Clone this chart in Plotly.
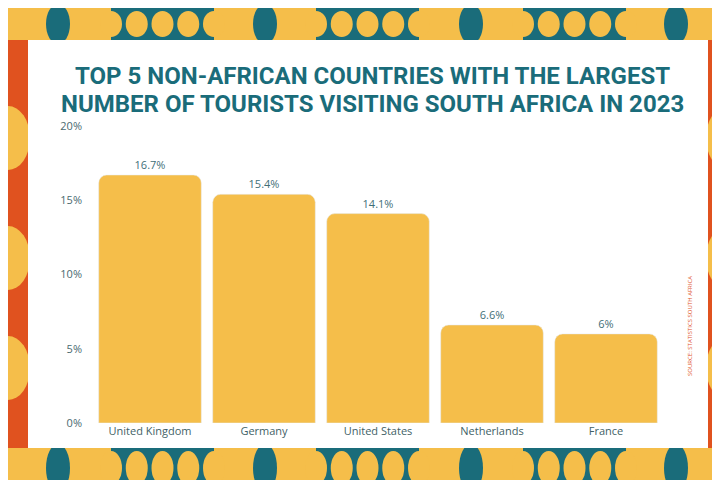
import plotly.graph_objects as go

countries = ["United Kingdom", "Germany", "United States", "Netherlands", "France"]
shares = [16.7, 15.4, 14.1, 6.6, 6]
labels = ["16.7%", "15.4%", "14.1%", "6.6%", "6%"]
tick_vals = [0, 5, 10, 15, 20]
tick_text = ["0%", "5%", "10%", "15%", "20%"]

YELLOW = "#F5BE4A"
TEAL = "#1A6C7A"
ORANGE = "#E0521F"

# plot area in pixels: x 85..655, y 118..415
L, R, T, B = 85, 65, 118, 65
PW, PH = 720 - L - R, 480 - T - B


def px(x):
    return (x - L) / PW


def py(y):
    return (480 - B - y) / PH


fig = go.Figure(go.Bar(
    x=countries, y=shares, text=labels, textposition="outside",
    textfont=dict(color="#3F6F77", size=11),
    marker=dict(color=YELLOW, cornerradius=8), width=0.9,
    cliponaxis=False,
))

shapes = []


def rect(x0, y0, x1, y1, color):
    shapes.append(dict(type="rect", xref="paper", yref="paper", x0=px(x0), x1=px(x1),
                       y0=py(y1), y1=py(y0), fillcolor=color, line_width=0, layer="below"))


def oval(x0, y0, x1, y1, color):
    shapes.append(dict(type="circle", xref="paper", yref="paper", x0=px(x0), x1=px(x1),
                       y0=py(y1), y1=py(y0), fillcolor=color, line_width=0, layer="below"))


# decorative border
rect(0, 0, 720, 32, YELLOW)
rect(0, 440, 720, 480, YELLOW)
rect(0, 32, 20, 440, ORANGE)
rect(700, 32, 720, 440, ORANGE)
for cy in [130, 250, 360]:
    oval(-22, cy - 32, 22, cy + 32, YELLOW)
    oval(698, cy - 32, 742, cy + 32, YELLOW)
for y0, y1 in [(0, 32), (440, 480)]:
    for tx in [103, 308, 515]:
        rect(tx, y0, tx + 103, y1, TEAL)
        for k in range(5):
            cx = tx + k * 25.75
            oval(cx - 11, y0 + 3, cx + 11, y1 - 3, YELLOW)
    for lx in [50, 257, 463, 668]:
        oval(lx - 12, y0 - 4, lx + 12, y1 + 4, TEAL)
rect(20, 32, 700, 440, "white")

title_lines = ["TOP 5 NON-AFRICAN COUNTRIES WITH THE LARGEST",
               "NUMBER OF TOURISTS VISITING SOUTH AFRICA IN 2023"]
annotations = []
for i, line in enumerate(title_lines):
    annotations.append(dict(text=f"<b>{line}</b>", xref="paper", yref="paper",
                            x=px(364), y=py(52 + i * 28), showarrow=False,
                            font=dict(family="Roboto", size=24, color=TEAL)))
annotations.append(dict(text="SOURCE: STATISTICS SOUTH AFRICA", xref="paper", yref="paper",
                        x=px(688), y=py(370), textangle=-90, showarrow=False,
                        font=dict(size=6, color=ORANGE)))

fig.update_layout(
    width=720, height=480, margin=dict(l=L, r=R, t=T, b=B),
    paper_bgcolor=YELLOW, plot_bgcolor="rgba(0,0,0,0)",
    font=dict(family="Open Sans", color="#555"),
    shapes=shapes, annotations=annotations, showlegend=False,
    bargap=0.1,
)
fig.update_yaxes(range=[0, 20], tickvals=tick_vals, ticktext=tick_text,
                 showgrid=False, zeroline=False, tickfont=dict(size=11, color="#4A6A70"),
                 ticklabelstandoff=10)
fig.update_xaxes(showgrid=False, tickfont=dict(size=11, color="#3F5F66"))

fig.write_html("out.html")
